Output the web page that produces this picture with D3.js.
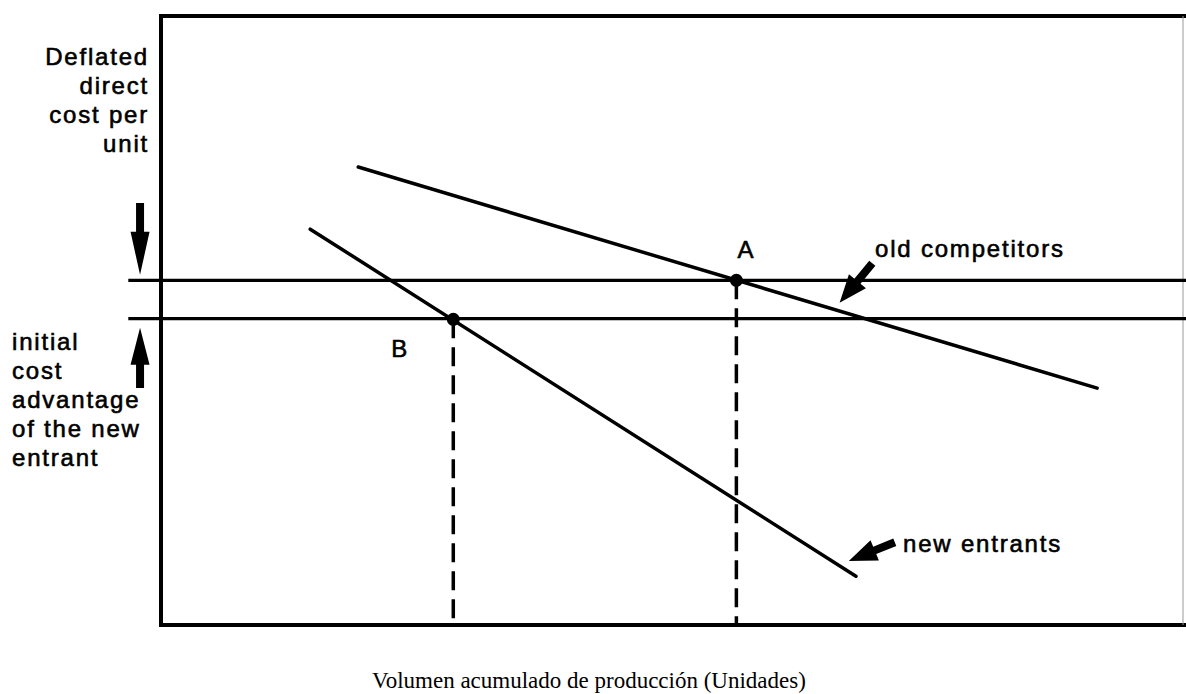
<!DOCTYPE html>
<html>
<head>
<meta charset="utf-8">
<script src="https://cdn.jsdelivr.net/npm/d3@7"></script>
<style>
  body { margin: 0; background: #fff; }
  svg { display: block; }
  .lbl { font-family: "Liberation Sans", Arial, Helvetica, sans-serif; font-size: 24px; letter-spacing: 1.8px; fill: #000; stroke: #000; stroke-width: 0.6px; }
  .cap { font-family: "Liberation Serif", "Times New Roman", serif; font-size: 23px; fill: #000; }
</style>
</head>
<body>
<svg width="1186" height="694"></svg>
<script>
// cost curves (x = cumulative volume, y = deflated unit cost, arbitrary units 0..100)
const oldCompetitors = [[19.3, 75.2], [91.6, 38.9]];
const newEntrants = [[14.6, 65.0], [68.0, 8.0]];

// horizontal cost levels
const levels = [56.6, 50.3];
const levelSpan = [-3.2, 100.3];

// marked points
const points = [
  {name: "A", x: 56.3, y: 56.6},
  {name: "B", x: 28.6, y: 50.2}
];

// pointer arrows [tail, tip]
const arrows = [
  {from: [-2.05, 69.3], to: [-2.05, 57.5], head: 43, w: 19, shaft: 8},
  {from: [-2.05, 38.9], to: [-2.05, 48.8], head: 37, w: 19, shaft: 8},
  {from: [69.6, 59.4], to: [66.4, 52.9], head: 28, w: 22, shaft: 8},
  {from: [71.8, 13.6], to: [67.3, 10.5], head: 28, w: 22, shaft: 8}
];

const yLabelTop = ["Deflated", "direct", "cost per", "unit"];
const yLabelBottom = ["initial", "cost", "advantage", "of the new", "entrant"];
const xLabel = "Volumen acumulado de producción (Unidades)";

const svg = d3.select("svg");

const x = d3.scaleLinear().domain([0, 100]).range([161, 1183]);
const y = d3.scaleLinear().domain([0, 100]).range([625, 16]);

const line = d3.line().x(d => x(d[0])).y(d => y(d[1]));

// frame
svg.append("line").attr("x1", x(0)).attr("x2", 1186).attr("y1", y(100)).attr("y2", y(100))
  .attr("stroke", "#000").attr("stroke-width", 4);
svg.append("line").attr("x1", x(0)).attr("x2", 1186).attr("y1", y(0)).attr("y2", y(0))
  .attr("stroke", "#000").attr("stroke-width", 4);
svg.append("line").attr("x1", x(0)).attr("x2", x(0)).attr("y1", y(100) - 2).attr("y2", y(0) + 2)
  .attr("stroke", "#000").attr("stroke-width", 4);
svg.append("line").attr("x1", x(100)).attr("x2", x(100)).attr("y1", y(100)).attr("y2", y(0))
  .attr("stroke", "#999").attr("stroke-width", 1);

// horizontal levels
svg.selectAll(".level")
  .data(levels)
  .enter()
  .append("line")
  .attr("class", "level")
  .attr("x1", x(levelSpan[0]))
  .attr("x2", x(levelSpan[1]))
  .attr("y1", d => y(d))
  .attr("y2", d => y(d))
  .attr("stroke", "#000")
  .attr("stroke-width", 3.2);

// dashed drops
svg.selectAll(".drop")
  .data(points)
  .enter()
  .append("line")
  .attr("class", "drop")
  .attr("x1", d => x(d.x))
  .attr("x2", d => x(d.x))
  .attr("y1", d => y(d.y))
  .attr("y2", y(0))
  .attr("stroke", "#000")
  .attr("stroke-width", 3.5)
  .attr("stroke-dasharray", "19,9");

// curves
[oldCompetitors, newEntrants].forEach(c => {
  svg.append("path")
    .attr("d", line(c))
    .attr("fill", "none")
    .attr("stroke", "#000")
    .attr("stroke-width", 3.5)
    .attr("stroke-linecap", "round");
});

// points
svg.selectAll(".pt")
  .data(points)
  .enter()
  .append("circle")
  .attr("class", "pt")
  .attr("cx", d => x(d.x))
  .attr("cy", d => y(d.y))
  .attr("r", 6.5)
  .attr("fill", "#000");

svg.selectAll(".ptlbl")
  .data(points)
  .enter()
  .append("text")
  .attr("class", "lbl")
  .attr("x", d => d.name === "A" ? x(d.x) + 1 : x(d.x) - 62)
  .attr("y", d => d.name === "A" ? y(d.y) - 22 : y(d.y) + 38)
  .text(d => d.name);

// fat arrows
function arrowPath(a) {
  const x0 = x(a.from[0]), y0 = y(a.from[1]);
  const x1 = x(a.to[0]), y1 = y(a.to[1]);
  const len = Math.hypot(x1 - x0, y1 - y0);
  const ux = (x1 - x0) / len, uy = (y1 - y0) / len;
  const nx = -uy, ny = ux;
  const bx = x1 - ux * a.head, by = y1 - uy * a.head;
  const s = a.shaft / 2, w = a.w / 2;
  const pts = [
    [x0 + nx * s, y0 + ny * s],
    [bx + nx * s, by + ny * s],
    [bx + nx * w, by + ny * w],
    [x1, y1],
    [bx - nx * w, by - ny * w],
    [bx - nx * s, by - ny * s],
    [x0 - nx * s, y0 - ny * s]
  ];
  return "M" + pts.map(p => p.join(",")).join("L") + "Z";
}

svg.selectAll(".arrow")
  .data(arrows)
  .enter()
  .append("path")
  .attr("class", "arrow")
  .attr("d", arrowPath)
  .attr("fill", "#000");

// curve labels
svg.append("text").attr("class", "lbl").attr("x", 875).attr("y", 257).text("old competitors");
svg.append("text").attr("class", "lbl").attr("x", 903).attr("y", 552).text("new entrants");

// y labels
svg.append("g").selectAll("text")
  .data(yLabelTop)
  .enter()
  .append("text")
  .attr("class", "lbl")
  .attr("text-anchor", "end")
  .attr("x", 149)
  .attr("y", (d, i) => 65 + i * 29)
  .text(d => d);

svg.append("g").selectAll("text")
  .data(yLabelBottom)
  .enter()
  .append("text")
  .attr("class", "lbl")
  .attr("x", 12)
  .attr("y", (d, i) => 350 + i * 29)
  .text(d => d);

// x label
svg.append("text")
  .attr("class", "cap")
  .attr("x", 372)
  .attr("y", 688)
  .text(xLabel);
</script>
</body>
</html>
